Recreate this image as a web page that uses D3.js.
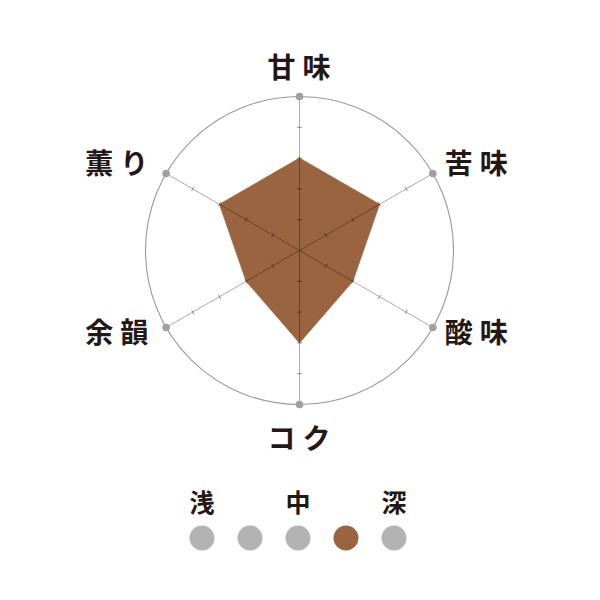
<!DOCTYPE html>
<html><head><meta charset="utf-8">
<script src="https://cdn.jsdelivr.net/npm/d3@7"></script>
<style>
html,body{margin:0;padding:0;background:#fff;}
svg{display:block;font-family:"Noto Sans CJK JP","Noto Sans",sans-serif;}
</style></head>
<body>
<svg id="chart" width="600" height="600"></svg>
<script>
const axes = ["甘味","苦味","酸味","コク","余韻","薫り"];
const values = [3,3,2,3,2,3];
const maxLevel = 5;
const tickLevels = [1,2,3,4];
const roastLabels = ["浅","","中","","深"];
const roastLevels = [1,2,3,4,5];
const roastSelected = 4;

const svg = d3.select("#chart");
const cx = 299.5, cy = 250.5, R = 154;
const rScale = d3.scaleLinear().domain([0, maxLevel]).range([0, R]);
const angle = d3.scalePoint().domain(axes).range([0, 2*Math.PI*(axes.length-1)/axes.length]);
const g = svg.append("g").attr("transform", `translate(${cx},${cy})`);
const pt = (a, r) => [Math.sin(angle(a))*r, -Math.cos(angle(a))*r];

// outer circle
g.append("circle").attr("r", R).attr("fill","none").attr("stroke","#999").attr("stroke-width",1.1);

// polygon
const line = d3.lineRadial().angle((d,i)=>angle(axes[i])).radius(d=>rScale(d)).curve(d3.curveLinearClosed);
g.append("path").attr("d", line(values)).attr("fill","#9b6440").attr("stroke","#9b6440").attr("stroke-width",0.8);

// axes lines
g.selectAll("line.axis").data(axes).join("line").attr("class","axis")
  .attr("x1",0).attr("y1",0)
  .attr("x2",d=>pt(d,R)[0]).attr("y2",d=>pt(d,R)[1])
  .attr("stroke","rgba(0,0,0,0.33)").attr("stroke-width",1);

// ticks
axes.forEach(a=>{
  const ang = angle(a);
  tickLevels.forEach(l=>{
    const [x,y] = pt(a, rScale(l));
    const px = Math.cos(ang)*2.5, py = Math.sin(ang)*2.5;
    g.append("line").attr("x1",x-px).attr("y1",y-py).attr("x2",x+px).attr("y2",y+py)
      .attr("stroke","rgba(0,0,0,0.4)").attr("stroke-width",1);
  });
});

// end dots
g.selectAll("circle.end").data(axes).join("circle").attr("class","end")
  .attr("cx",d=>pt(d,R)[0]).attr("cy",d=>pt(d,R)[1]).attr("r",3.8).attr("fill","#a0a0a0");

// labels
g.selectAll("text.lab").data(axes).join("text").attr("class","lab")
  .each(function(d){
    const [x,y] = pt(d,R);
    const s = d3.select(this);
    let tx, ty, anchor;
    if (Math.abs(x) < 1) { tx = x + 3; ty = y < 0 ? y - 31 : y + 32; anchor = "middle"; }
    else if (x > 0) { tx = x + 12; ty = y < 0 ? y - 12 : y + 3; anchor = "start"; }
    else { tx = x - 81; ty = y < 0 ? y - 12 : y + 3; anchor = "start"; }
    s.attr("x",tx).attr("y",ty).attr("text-anchor",anchor);
  })
  .attr("dominant-baseline","central")
  .attr("font-size",28).attr("font-weight",700).attr("letter-spacing",7)
  .attr("fill","#231815").text(d=>d);

// roast legend
const lx = d3.scalePoint().domain(roastLevels).range([202, 394]);
svg.selectAll("circle.roast").data(roastLevels).join("circle").attr("class","roast")
  .attr("cx",d=>lx(d)).attr("cy",538).attr("r",12.5)
  .attr("fill",d=>d===roastSelected?"#9b6440":"#b3b3b3");
svg.selectAll("text.roast").data(roastLevels).join("text").attr("class","roast")
  .attr("x",d=>lx(d)).attr("y",501).attr("text-anchor","middle").attr("dominant-baseline","central")
  .attr("font-size",25).attr("font-weight",700).attr("fill","#231815")
  .text((d,i)=>roastLabels[i]);
</script>
</body></html>
